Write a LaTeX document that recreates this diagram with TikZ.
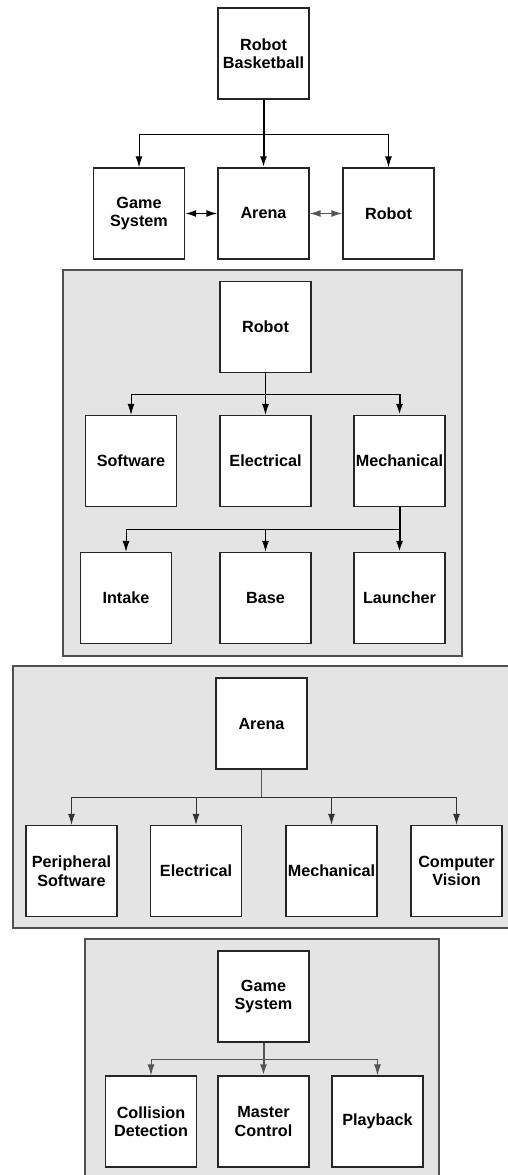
\documentclass[tikz,border=0pt]{standalone}
\usepackage{fontspec}
\setmainfont{Liberation Sans}
\usetikzlibrary{arrows.meta}
\definecolor{panelfill}{HTML}{E4E4E4}
\definecolor{paneldraw}{HTML}{505050}
\definecolor{linegray}{HTML}{555555}
\begin{document}
\begin{tikzpicture}[x=1pt, y=-1pt, >={Latex[length=11pt,width=7pt]},
    block/.style={draw=black!85, line width=1.3pt, fill=white, minimum size=91pt,
        inner sep=0pt, align=center, font=\fontsize{16.2}{18.5}\selectfont\bfseries},
    panel/.style={draw=paneldraw, line width=2.5pt, fill=panelfill},
    link/.style={->, line width=1pt},
    trunk/.style={->, line width=2pt}]
    \useasboundingbox (0,0) rectangle (508,1175);
    \clip (0,0) rectangle (508,1175);

    \node[block] (rb) at (263.5,53.5) {Robot\\Basketball};
    \node[block] (gs) at (139,213.5) {Game\\System};
    \node[block] (ar) at (263.5,213.5) {Arena};
    \node[block] (ro) at (388.5,213.5) {Robot};
    \coordinate (jtop) at (263.5,134);

    \draw[trunk] (rb) -- (ar);
    \draw[link] (jtop) -| (gs);
    \draw[link] (jtop) -| (ro);
    \draw[<->, line width=1.5pt] (gs) -- (ar);
    \draw[<->, line width=1.5pt, linegray] (ar) -- (ro);

    \draw[panel] (63,270) rectangle (462,656);
    \node[block] (rob) at (265.5,327) {Robot};
    \node[block] (sw) at (131,461) {Software};
    \node[block] (rel) at (265.5,461) {Electrical};
    \node[block] (rme) at (399.5,461) {Mechanical};
    \node[block] (in) at (126,598) {Intake};
    \node[block] (ba) at (265.5,598) {Base};
    \node[block] (la) at (399.5,598) {Launcher};
    \coordinate (jrob) at (265.5,394);
    \coordinate (jmech) at (399.5,529);

    \draw[link] (rob) -- (rel);
    \draw[link] (jrob) -| (sw);
    \draw[line width=1pt] (jrob) -- (jrob -| rme);
    \draw[trunk] (jrob -| rme) -- (rme);
    \draw[trunk] (rme) -- (la);
    \draw[link] (jmech) -| (in);
    \draw[link] (jmech) -| (ba);

    \draw[panel] (13,666) rectangle (530,928);
    \node[block] (ara) at (261.5,723.5) {Arena};
    \node[block] (ps) at (71.5,871) {Peripheral\\Software};
    \node[block] (ael) at (196,871) {Electrical};
    \node[block] (ame) at (331.5,871) {Mechanical};
    \node[block] (cv) at (456.5,871) {Computer\\Vision};
    \coordinate (jar) at (261.5,797);

    \draw[line width=1pt, linegray] (ara) -- (jar);
    \draw[link, black!80] (jar) -| (ps);
    \draw[link, black!80] (jar) -| (ael);
    \draw[link, black!80] (jar) -| (ame);
    \draw[link, black!80] (jar) -| (cv);

    \draw[panel] (85,939) rectangle (439,1200);
    \node[block] (gsy) at (263.5,996.5) {Game\\System};
    \node[block] (cd) at (151,1121.5) {Collision\\Detection};
    \node[block] (mc) at (263.5,1121.5) {Master\\Control};
    \node[block] (pb) at (377.5,1121.5) {Playback};
    \coordinate (jgs) at (263.5,1059);

    \draw[trunk, linegray] (gsy) -- (mc);
    \draw[link, linegray] (jgs) -| (cd);
    \draw[link, linegray] (jgs) -| (pb);
\end{tikzpicture}
\end{document}
